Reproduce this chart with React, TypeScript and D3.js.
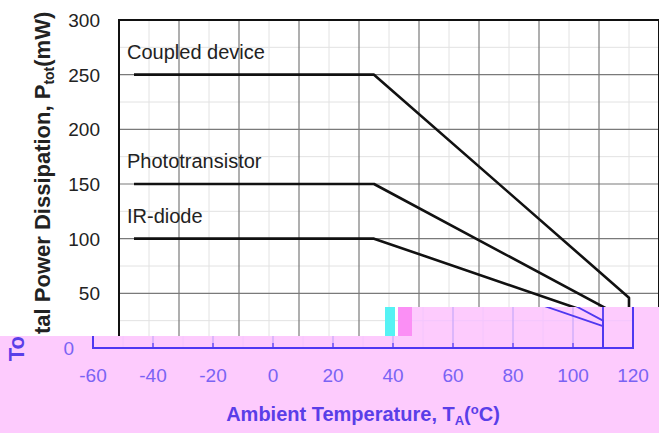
import React from "react";
import * as d3 from "d3";

const temps = [-55, 25, 110, 110];
const coupledDevice = [250, 250, 46, 0];
const phototransistor = [150, 150, 25, 0];
const irDiode = [100, 100, 20, 0];
const seriesNames = ["Coupled device", "Phototransistor", "IR-diode"];
const seriesValues = [coupledDevice, phototransistor, irDiode];
const xTicks = [-60, -40, -20, 0, 20, 40, 60, 80, 100, 120];
const xMinor = [-50, -30, -10, 10, 30, 50, 70, 90, 110];
const yTicks = [0, 50, 100, 150, 200, 250, 300];
const yMinor = [25, 75, 125, 175, 225, 275];

const W = 659;
const H = 433;
const FONT = "'Liberation Sans', Arial, Helvetica, sans-serif";

type Theme = {
  major: string;
  minor: string;
  frame: string;
  curve: string;
  curveW: number;
  tick: string;
  title: string;
  label: string;
};

const dark: Theme = {
  major: "#7a7a7a",
  minor: "#e2e2e2",
  frame: "#111",
  curve: "#111",
  curveW: 2.6,
  tick: "#222",
  title: "#222",
  label: "#222",
};

const blue: Theme = {
  major: "#c7a8fb",
  minor: "#f3c6fd",
  frame: "#4e38f2",
  curve: "#5038f0",
  curveW: 1.8,
  tick: "#7a63f4",
  title: "#5a3ee8",
  label: "#5a3ee8",
};

function Layer({ dx, t, upper }: { dx: number; t: Theme; upper: boolean }) {
  const x = d3.scaleLinear().domain([-60, 120]).range([119 + dx, 659 + dx]);
  const y = d3.scaleLinear().domain([0, 300]).range([348, 20]);
  const line = d3
    .line<[number, number]>()
    .x((d) => x(d[0]))
    .y((d) => y(d[1]));
  const x0 = x(-60);
  const x1 = x(120);
  return (
    <g fontFamily={FONT}>
      {xMinor.map((v) => (
        <line key={"xm" + v} x1={x(v)} x2={x(v)} y1={y(300)} y2={y(0)} stroke={t.minor} strokeWidth={1} />
      ))}
      {yMinor.map((v) => (
        <line key={"ym" + v} x1={x0} x2={x1} y1={y(v)} y2={y(v)} stroke={t.minor} strokeWidth={1} />
      ))}
      {xTicks.slice(1, -1).map((v) => (
        <line key={"xM" + v} x1={x(v)} x2={x(v)} y1={y(300)} y2={y(0)} stroke={t.major} strokeWidth={1.2} />
      ))}
      {yTicks.slice(1, -1).map((v) => (
        <line key={"yM" + v} x1={x0} x2={x1} y1={y(v)} y2={y(v)} stroke={t.major} strokeWidth={1.2} />
      ))}
      {!upper &&
        xTicks.map((v) => (
          <line key={"xt" + v} x1={x(v)} x2={x(v)} y1={y(0) - 5} y2={y(0)} stroke={t.frame} strokeWidth={1.2} />
        ))}
      <rect x={x0} y={y(300)} width={x1 - x0} height={y(0) - y(300)} fill="none" stroke={t.frame} strokeWidth={2} />
      {seriesValues.map((vals, i) => (
        <path
          key={"s" + i}
          d={line(temps.map((tv, j) => [tv, vals[j]] as [number, number])) || ""}
          fill="none"
          stroke={t.curve}
          strokeWidth={t.curveW}
          strokeLinejoin="round"
        />
      ))}
      {upper &&
        seriesValues.map((vals, i) => (
          <text key={"l" + i} x={x0 + 8} y={y(vals[0]) - 16} fontSize={20} fill={t.label}>
            {seriesNames[i]}
          </text>
        ))}
      {yTicks
        .filter((v) => (upper ? v > 0 : v === 0))
        .map((v) => (
          <text key={"yl" + v} x={x0 - 19} y={y(v)} dy="0.36em" textAnchor="end" fontSize={19} fill={t.tick}>
            {v}
          </text>
        ))}
      {!upper &&
        xTicks.map((v) => (
          <text key={"xl" + v} x={x(v)} y={382} textAnchor="middle" fontSize={19} fill={t.tick}>
            {v}
          </text>
        ))}
      {upper ? (
        <text
          transform={`translate(${50 + dx},334) rotate(-90)`}
          textAnchor="start"
          fontSize={22}
          fontWeight="bold"
          fill={t.title}
        >
          <tspan>tal Power Dissipation, P</tspan>
          <tspan fontSize={14} dy={4}>tot</tspan>
          <tspan dy={-4}>(mW)</tspan>
        </text>
      ) : (
        <text
          transform={`translate(${50 + dx},336) rotate(-90)`}
          textAnchor="end"
          fontSize={22}
          fontWeight="bold"
          fill={t.title}
        >
          To
        </text>
      )}
      {!upper && (
        <text x={(x0 + x1) / 2} y={421} textAnchor="middle" fontSize={20} fontWeight="bold" fill={t.title}>
          <tspan>Ambient Temperature, T</tspan>
          <tspan fontSize={13} dy={4}>A</tspan>
          <tspan dy={-4}>(</tspan>
          <tspan fontSize={13} dy={-7}>o</tspan>
          <tspan dy={7}>C)</tspan>
        </text>
      )}
    </g>
  );
}

export default function App() {
  return (
    <svg
      width={W}
      height={H}
      viewBox={`0 0 ${W} ${H}`}
      style={{ position: "fixed", left: 0, top: 0, background: "#fff" }}
    >
      <defs>
        <clipPath id="clipDark">
          <path d="M0,0H659V307H412V336H0Z" />
        </clipPath>
        <clipPath id="clipBlue">
          <path d="M0,336H659V433H0Z M412,307H659V336H412Z" />
        </clipPath>
      </defs>
      <rect x={0} y={0} width={W} height={H} fill="#fff" />
      <g clipPath="url(#clipDark)">
        <Layer dx={0} t={dark} upper={true} />
      </g>
      <g clipPath="url(#clipBlue)">
        <rect x={0} y={0} width={W} height={H} fill="#fdcbfd" />
        <Layer dx={-26} t={blue} upper={false} />
      </g>
      <rect x={385} y={307} width={10} height={29} fill="#55f2f4" />
      <rect x={398} y={307} width={14} height={29} fill="#fb8ff5" />
    </svg>
  );
}
